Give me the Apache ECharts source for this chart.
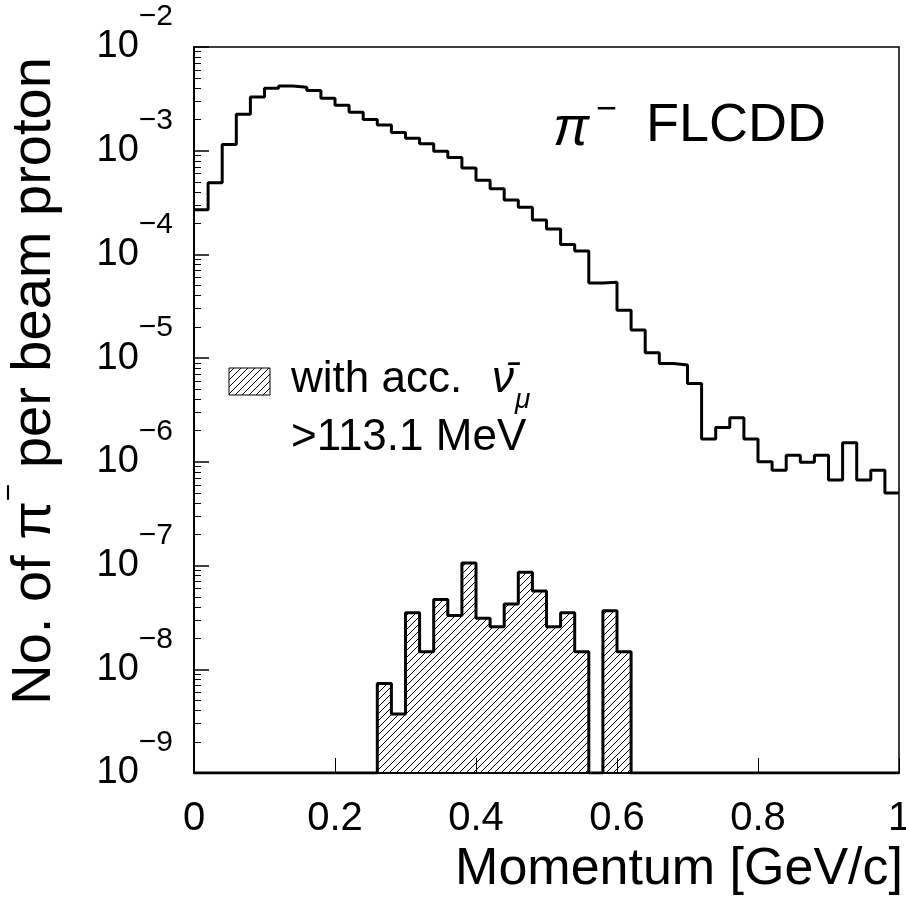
<!DOCTYPE html>
<html>
<head>
<meta charset="utf-8">
<script src="https://cdn.jsdelivr.net/npm/echarts@6/dist/echarts.min.js"></script>
<style>
html,body{margin:0;padding:0;background:#fff;}
#chart{width:906px;height:908px;}
</style>
</head>
<body>
<div id="chart"></div>
<script>
// ---- data ----
const binLow = 0.0;
const binWidth = 0.02;
// pi- momentum spectrum (per beam proton), 50 bins 0..1 GeV/c
const mainCounts = [
  2.7e-4, 4.9e-4, 1.15e-3, 2.25e-3, 3.3e-3, 4.0e-3, 4.2e-3, 4.1e-3, 3.8e-3, 3.2e-3,
  2.75e-3, 2.35e-3, 2.0e-3, 1.77e-3, 1.5e-3, 1.32e-3, 1.17e-3, 9.9e-4, 8.6e-4, 6.8e-4,
  5.2e-4, 4.3e-4, 3.35e-4, 2.85e-4, 2.15e-4, 1.76e-4, 1.25e-4, 1.08e-4, 5.3e-5, 5.4e-5,
  2.9e-5, 1.87e-5, 1.13e-5, 8.9e-6, 8.6e-6, 5.7e-6, 1.66e-6, 2.15e-6, 2.66e-6, 1.66e-6,
  1.0e-6, 8.3e-7, 1.16e-6, 9.9e-7, 1.16e-6, 6.7e-7, 1.53e-6, 6.7e-7, 8.3e-7, 5.0e-7
];
// pi- giving accepted anti-nu_mu > 113.1 MeV (0 = empty bin)
const accCounts = [
  0, 0, 0, 0, 0, 0, 0, 0, 0, 0,
  0, 0, 0, 7.3e-9, 3.7e-9, 3.5e-8, 1.48e-8, 4.7e-8, 3.3e-8, 1.06e-7,
  3.1e-8, 2.57e-8, 4.26e-8, 8.6e-8, 5.7e-8, 2.57e-8, 3.5e-8, 1.48e-8, 0, 3.66e-8,
  1.48e-8, 0, 0, 0, 0, 0, 0, 0, 0, 0,
  0, 0, 0, 0, 0, 0, 0, 0, 0, 0
];
const xTicks = [0, 0.2, 0.4, 0.6, 0.8, 1];
const decadeExps = [-9, -8, -7, -6, -5, -4, -3, -2];
const minorMultipliers = [2, 3, 4, 5, 6, 7, 8, 9];

const yMin = 1e-9, yMax = 1e-2;

// ---- helpers ----
function histPoints(counts, floorVal) {
  const pts = counts.map((c, i) => [binLow + i * binWidth, c > 0 ? c : floorVal]);
  const last = counts[counts.length - 1];
  pts.push([binLow + counts.length * binWidth, last > 0 ? last : floorVal]);
  return pts;
}
function makeHatch() {
  const s = 7;
  const c = document.createElement('canvas');
  c.width = s; c.height = s;
  const g = c.getContext('2d');
  g.strokeStyle = '#000';
  g.lineWidth = 1;
  g.beginPath();
  g.moveTo(0, s); g.lineTo(s, 0);
  g.moveTo(-1, 1); g.lineTo(1, -1);
  g.moveTo(s - 1, s + 1); g.lineTo(s + 1, s - 1);
  g.stroke();
  return c;
}
const hatch = { image: makeHatch(), repeat: 'repeat' };
const decades = decadeExps.map(e => Math.pow(10, e));
const minors = [];
decadeExps.slice(0, -1).forEach(e => minorMultipliers.forEach(m => minors.push(m * Math.pow(10, e))));

const FONT = '"Liberation Sans", Arial, Helvetica, sans-serif';

const chart = echarts.init(document.getElementById('chart'), null, { renderer: 'canvas' });
chart.setOption({
  animation: false,
  backgroundColor: '#fff',
  grid: {
    left: 194, top: 47, width: 705, height: 726,
    show: true, borderColor: '#000', borderWidth: 1.5, backgroundColor: 'transparent',
    outerBoundsMode: 'none', containLabel: false
  },
  xAxis: {
    type: 'value', min: 0, max: 1, interval: 0.2,
    axisLine: { show: true, onZero: false, lineStyle: { color: '#000', width: 2 } },
    axisTick: { show: true, inside: true, length: 15, lineStyle: { color: '#000', width: 1 } },
    splitLine: { show: false },
    axisLabel: {
      show: true, margin: 26, color: '#000', fontSize: 40, fontFamily: FONT,
      showMinLabel: true, showMaxLabel: true,
      formatter: v => String(Math.round(v * 10) / 10)
    }
  },
  yAxis: [{
    type: 'log', logBase: 10, min: yMin, max: yMax,
    axisLine: { show: true, lineStyle: { color: '#000', width: 2 } },
    axisTick: { show: true, inside: true, length: 15, customValues: decades, lineStyle: { color: '#000', width: 1.5 } },
    splitLine: { show: false },
    axisLabel: {
      show: true, margin: 21, color: '#000', customValues: decades,
      formatter: v => '{b|10}{e|\u2212' + (-Math.round(Math.log10(v))) + '}',
      rich: {
        b: { fontSize: 38, fontFamily: FONT, color: '#000', lineHeight: 90 },
        e: { fontSize: 30, fontFamily: FONT, color: '#000', lineHeight: 42, verticalAlign: 'top' }
      }
    }
  }, {
    type: 'log', logBase: 10, min: yMin, max: yMax, position: 'left',
    axisLine: { show: false },
    axisLabel: { show: false },
    splitLine: { show: false },
    axisTick: { show: true, inside: true, length: 7, customValues: minors, lineStyle: { color: '#000', width: 1 } }
  }],
  series: [{
    type: 'line', name: 'all', step: 'end', yAxisIndex: 0,
    data: histPoints(mainCounts, yMin),
    symbol: 'none', clip: true,
    lineStyle: { color: '#000', width: 3 }
  }, {
    type: 'line', name: 'acc', step: 'end', yAxisIndex: 0,
    data: histPoints(accCounts, yMin),
    symbol: 'none', clip: true,
    lineStyle: { color: '#000', width: 3 },
    areaStyle: { origin: 'start', color: hatch, opacity: 1 }
  }],
  graphic: [
    { type: 'text', x: 35, y: 381, rotation: Math.PI / 2,
      style: { text: '{n|No. of \u03c0}{s|\u2212}{n| per beam proton}', textAlign: 'center', textVerticalAlign: 'middle',
        rich: { n: { fontSize: 56, fontFamily: FONT, fill: '#000', lineHeight: 80 },
                s: { fontSize: 30, fontFamily: FONT, fill: '#000', lineHeight: 40, verticalAlign: 'top' } } } },
    { type: 'text', x: 903, y: 870,
      style: { text: 'Momentum [GeV/c]', fill: '#000', font: '52px ' + FONT, textAlign: 'right', textVerticalAlign: 'middle' } },
    { type: 'text', x: 553, y: 130,
      style: { text: '\u03c0', fill: '#000', font: 'italic 54px ' + FONT, textAlign: 'left', textVerticalAlign: 'middle' } },
    { type: 'text', x: 596, y: 110,
      style: { text: '\u2212', fill: '#000', font: '36px ' + FONT, textAlign: 'left', textVerticalAlign: 'middle' } },
    { type: 'text', x: 646, y: 126,
      style: { text: 'FLCDD', fill: '#000', font: '54px ' + FONT, textAlign: 'left', textVerticalAlign: 'middle' } },
    { type: 'rect', shape: { x: 229, y: 368, width: 41, height: 27 },
      style: { fill: hatch, stroke: '#000', lineWidth: 1 } },
    { type: 'text', x: 291, y: 380,
      style: { text: 'with acc.', fill: '#000', font: '44px ' + FONT, textAlign: 'left', textVerticalAlign: 'middle' } },
    { type: 'text', x: 492, y: 380,
      style: { text: '\u03bd\u0304', fill: '#000', font: 'italic 44px ' + FONT, textAlign: 'left', textVerticalAlign: 'middle' } },
    { type: 'text', x: 515, y: 400,
      style: { text: '\u03bc', fill: '#000', font: 'italic 28px ' + FONT, textAlign: 'left', textVerticalAlign: 'middle' } },
    { type: 'text', x: 291, y: 438,
      style: { text: '>113.1 MeV', fill: '#000', font: '44px ' + FONT, textAlign: 'left', textVerticalAlign: 'middle' } }
  ]
});
</script>
</body>
</html>
